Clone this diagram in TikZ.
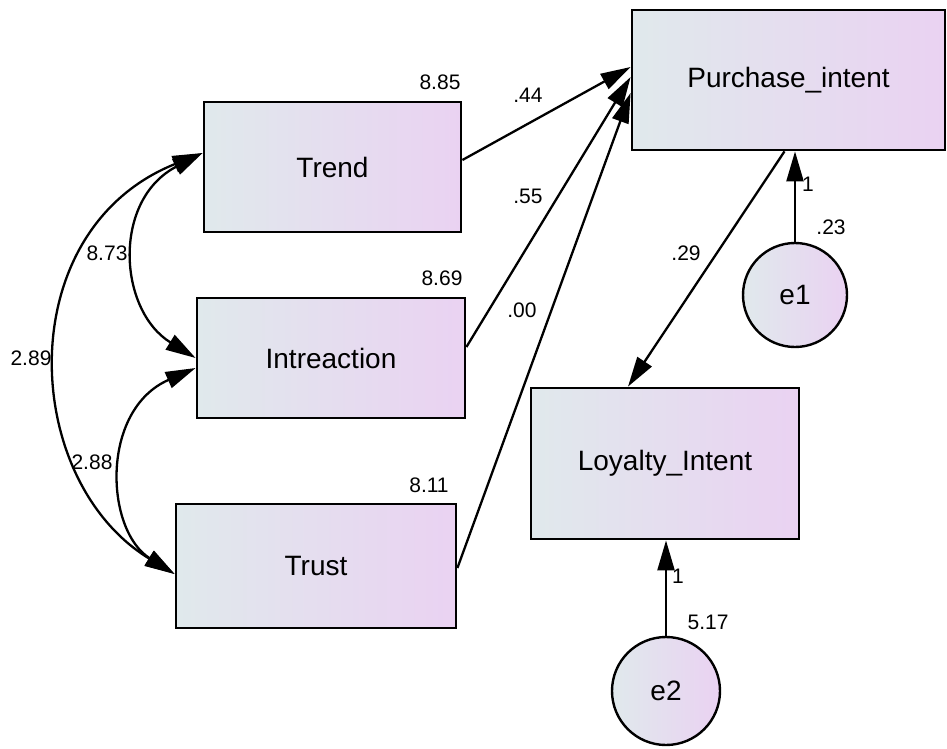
\documentclass[tikz,border=0pt]{standalone}
\usepackage{fontspec}
\setmainfont{Liberation Sans}
\usetikzlibrary{arrows.meta, positioning}
\definecolor{shadeL}{RGB}{224,233,236}
\definecolor{shadeR}{RGB}{234,210,242}
\tikzset{%
  >={Triangle[width=17pt,length=30pt]},
  % Specifications for style of nodes:
    base/.style = {rectangle, draw=black, line width=2.8pt, left color=shadeL, right color=shadeR,
                   text centered, font=\fontsize{28}{31}\selectfont},
    observed/.style = {base, minimum width=268pt, minimum height=120pt},
    errorTerm/.style = {base, circle, minimum size=104pt, inner sep=0pt, line width=2.4pt},
    estimate/.style = {inner sep=0pt, font=\fontsize{21}{24}\selectfont},
    regPath/.style = {->, line width=2.3pt},
    covPath/.style = {<->, line width=2.3pt},
}
\begin{document}
\begin{tikzpicture}[x=1pt, y=-1pt]
  \useasboundingbox (0,0) rectangle (947,749);
  \node (trend)       [observed, minimum width=257pt, minimum height=130pt] at (332.5,167) {Trend};
  \node (interaction) [observed] at (331,358) {Intreaction};
  \node (trust)       [observed, minimum width=280pt, minimum height=124pt] at (316,566) {Trust};
  \node (purchase)    [observed, minimum width=313pt, minimum height=140pt] at (788.5,80) {Purchase\_intent};
  \node (loyalty)     [observed, minimum height=151pt] at (665,463.5) {Loyalty\_Intent};
  \node (e1)          [errorTerm] at (795,295) {e1};
  \node (e2)          [errorTerm, minimum size=108pt] at (666,691) {e2};

  % Estimates
  \node (varTrend)    [estimate] at (440,82)  {8.85};
  \node (varInter)    [estimate] at (442,278) {8.69};
  \node (varTrust)    [estimate] at (429,485) {8.11};
  \node (covTI)       [estimate] at (107,253) {8.73};
  \node (covTT)       [estimate] at (31,358)  {2.89};
  \node (covIT)       [estimate] at (92,462)  {2.88};
  \node (wTrend)      [estimate] at (528,95)  {.44};
  \node (wInter)      [estimate] at (528,196) {.55};
  \node (wTrust)      [estimate] at (522,310) {.00};
  \node (wPurchase)   [estimate] at (686,253) {.29};
  \node (varE1)       [estimate] at (831,227) {.23};
  \node (fixE1)       [estimate] at (808,184) {1};
  \node (fixE2)       [estimate] at (678,576) {1};
  \node (varE2)       [estimate] at (708,622) {5.17};

  % Specification of lines between nodes
  \draw[regPath] ([yshift=7pt]trend.east) -- ([yshift=13pt]purchase.west);
  \draw[regPath] ([yshift=11pt]interaction.east) -- ([yshift=3pt]purchase.west);
  \draw[regPath] ([yshift=-2pt]trust.east) -- ([yshift=-13pt]purchase.west);
  \draw[regPath] ([xshift=-4pt]purchase.south) -- ([xshift=-37pt]loyalty.north);
  \draw[regPath] (e1.north) -- (e1.north |- purchase.south);
  \draw[regPath] (e2.north) -- (e2.north |- loyalty.south);

  \draw[covPath] ([yshift=14pt]trend.west) .. controls (112,200) and (118,310) .. (interaction.west);
  \draw[covPath] ([yshift=-10pt]interaction.west) .. controls (100,410) and (105,530) .. ([yshift=-8pt]trust.west);
  \draw[covPath] ([yshift=14pt]trend.west) .. controls (10,230) and (20,480) .. ([yshift=-8pt]trust.west);
\end{tikzpicture}
\end{document}
